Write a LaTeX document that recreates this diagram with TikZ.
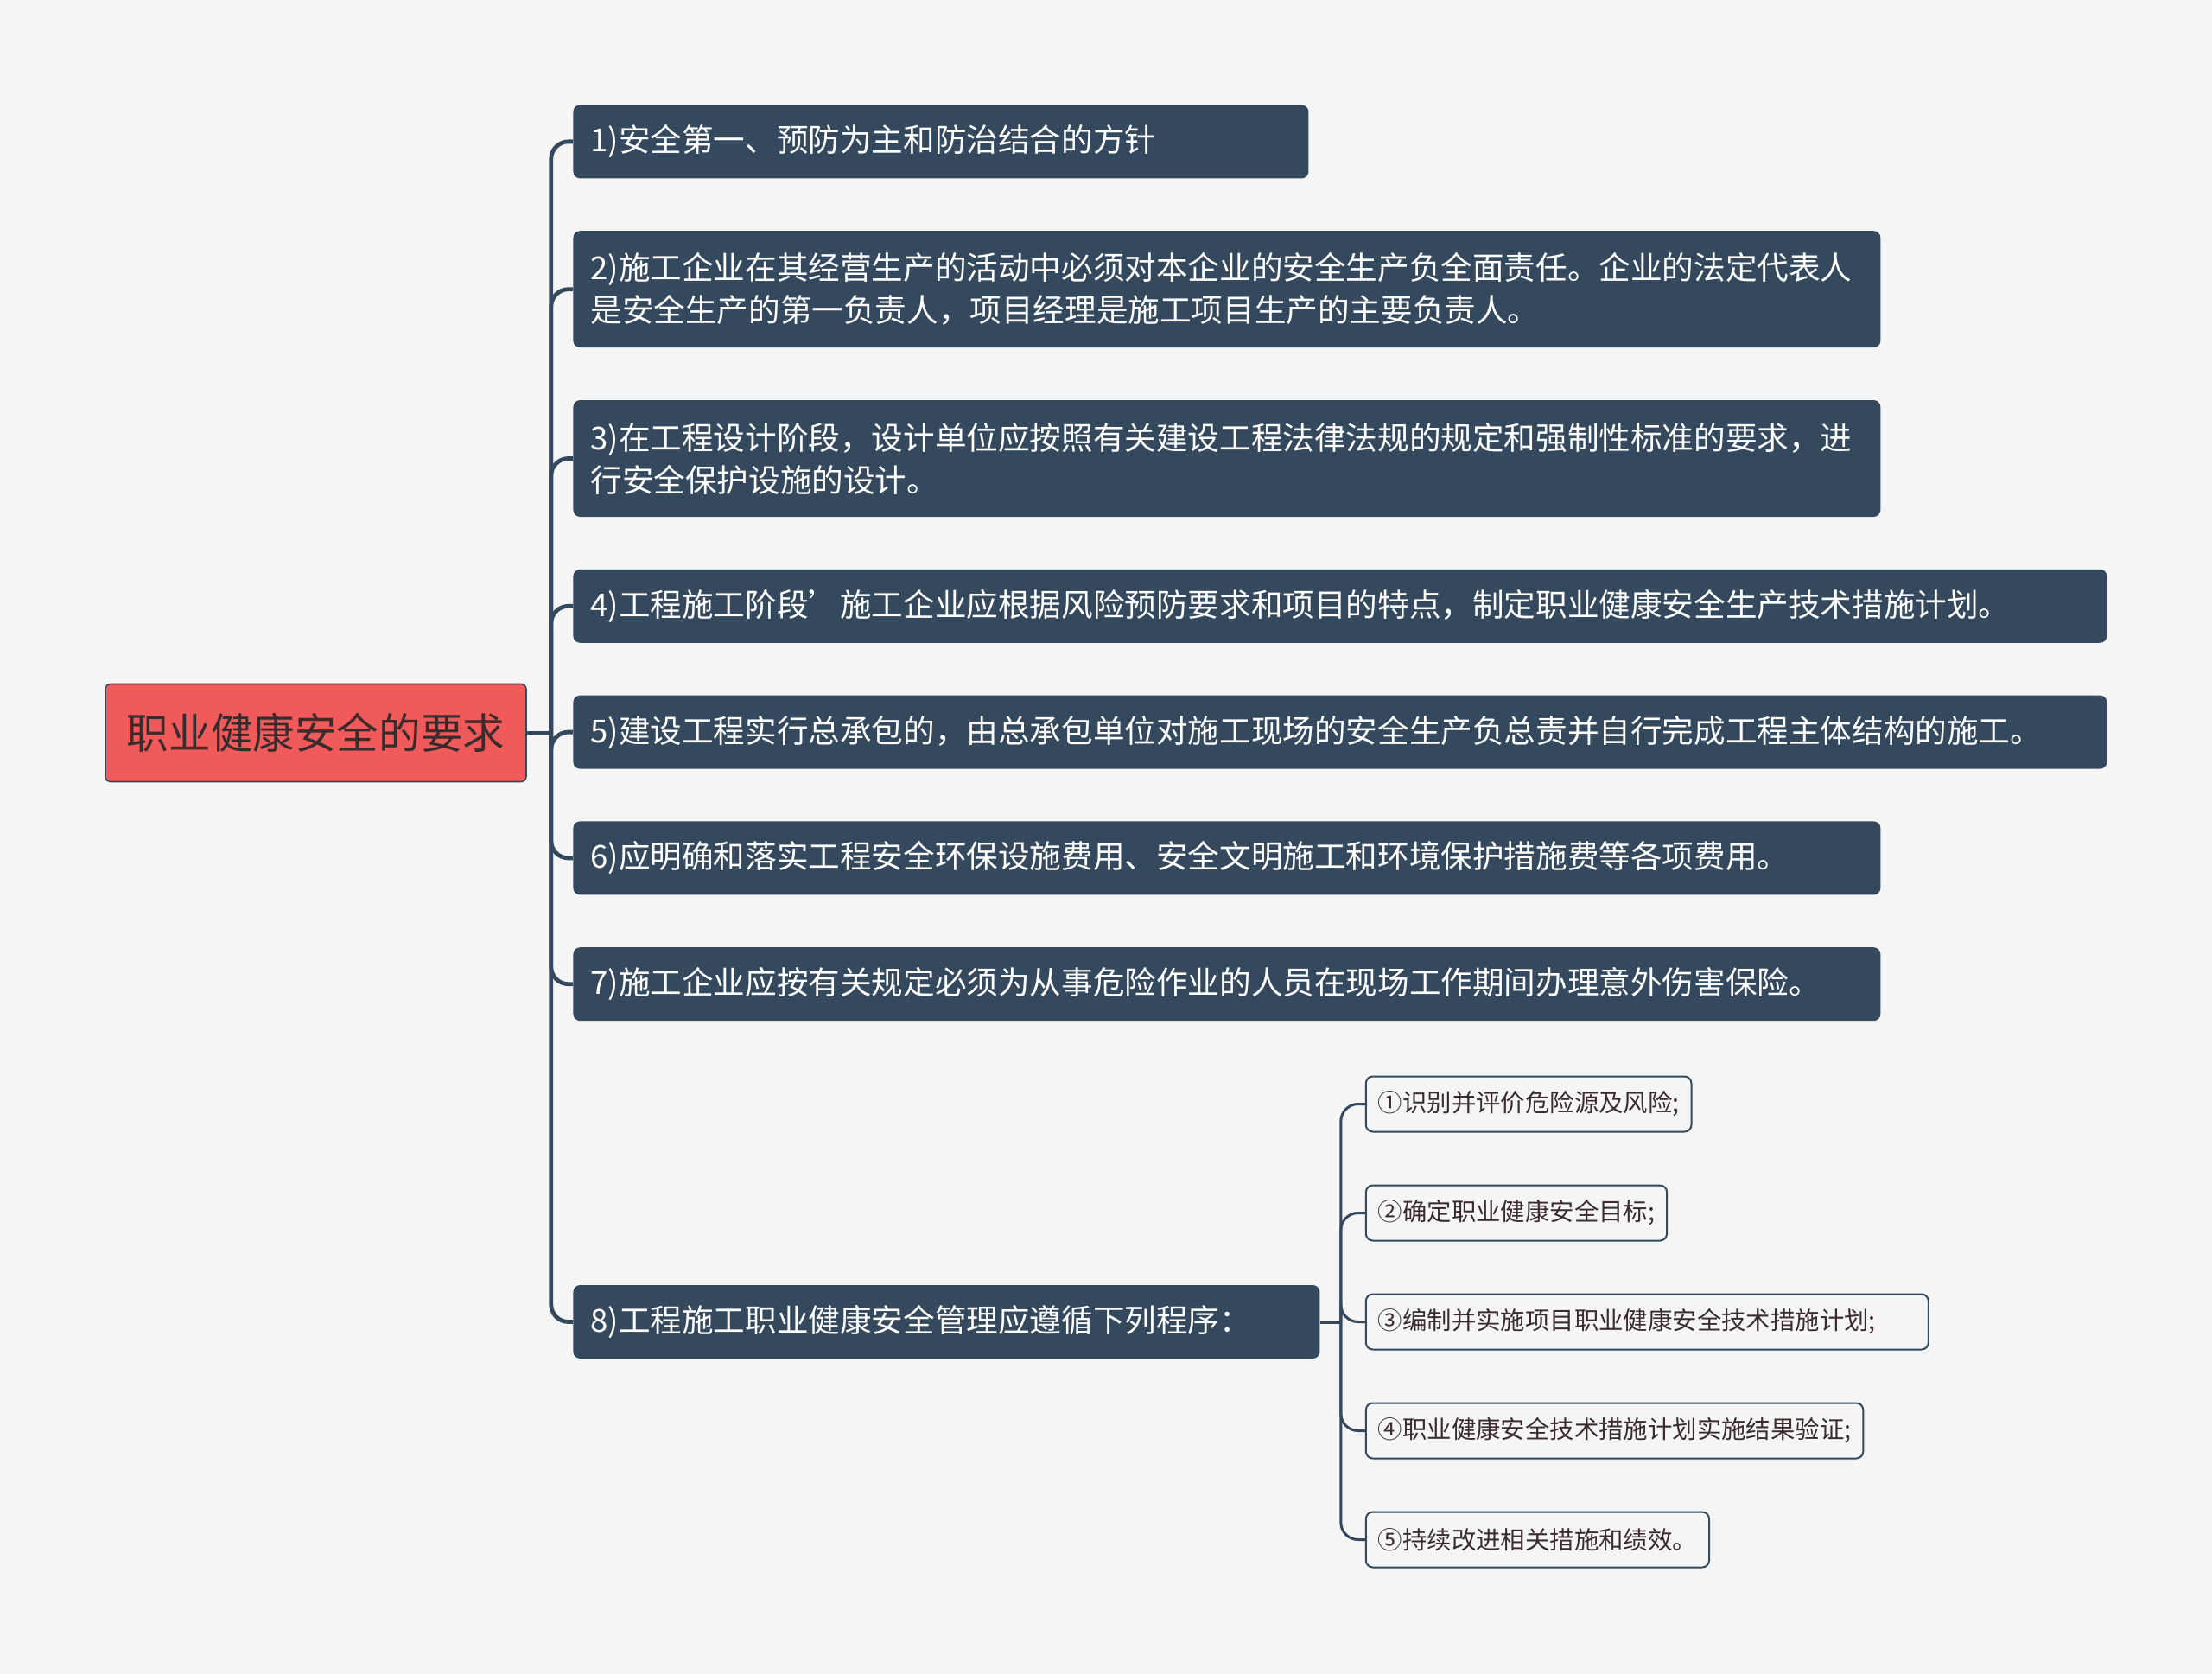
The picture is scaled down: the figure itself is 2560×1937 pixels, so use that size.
\documentclass[tikz,border=0pt]{standalone}
\usepackage{fontspec}
\setmainfont{Noto Sans CJK SC}
\usepackage{tikz}
\usetikzlibrary{positioning}

\definecolor{slate}{HTML}{34495E}
\definecolor{paper}{HTML}{F5F5F5}
\definecolor{coral}{HTML}{F05A5A}
\definecolor{ink}{HTML}{3A2C2C}

\begin{document}
\begin{tikzpicture}[x=0.5pt, y=-0.5pt]
    % Styles
    \tikzstyle{topic} = [rectangle, rounded corners=3pt, draw=slate, line width=0.8pt, fill=coral, text=ink, minimum width=243.5pt, minimum height=56.5pt, font=\fontsize{24.3}{30}\selectfont]
    \tikzstyle{branch} = [rectangle, rounded corners=4pt, fill=slate, text=white, inner xsep=10pt, inner ysep=4pt, align=left, minimum height=42.5pt, font=\fontsize{18.3}{24.5}\selectfont]
    \tikzstyle{leaf} = [rectangle, rounded corners=4pt, draw=slate, line width=1pt, fill=paper, text=ink, inner xsep=7pt, minimum height=32pt, font=\fontsize{14.2}{18}\selectfont]
    \tikzstyle{link} = [draw=slate, line width=2.4pt, rounded corners=10pt]
    \tikzstyle{twig} = [draw=slate, line width=1.5pt, rounded corners=10pt]

    % Background
    \fill[paper] (0,0) rectangle (2560,1937);

    % Nodes
    \node[topic] (root) at (365.5,848) {职业健康安全的要求};
    \node[branch, text width=405.5pt, anchor=north west] (b1) at (663,121) {1)安全第一、预防为主和防治结合的方针};
    \node[branch, text width=736.5pt, minimum height=67.5pt, below right=30pt and 0pt of b1.south west] (b2) {2)施工企业在其经营生产的活动中必须对本企业的安全生产负全面责任。企业的法定代表人\\是安全生产的第一负责人，项目经理是施工项目生产的主要负责人。};
    \node[branch, text width=736.5pt, minimum height=67.5pt, below right=30pt and 0pt of b2.south west] (b3) {3)在工程设计阶段，设计单位应按照有关建设工程法律法规的规定和强制性标准的要求，进\\行安全保护设施的设计。};
    \node[branch, text width=867.5pt, below right=30pt and 0pt of b3.south west] (b4) {4)工程施工阶段’施工企业应根据风险预防要求和项目的特点，制定职业健康安全生产技术措施计划。};
    \node[branch, text width=867.5pt, below right=30pt and 0pt of b4.south west] (b5) {5)建设工程实行总承包的，由总承包单位对施工现场的安全生产负总责并自行完成工程主体结构的施工。};
    \node[branch, text width=736.5pt, below right=30pt and 0pt of b5.south west] (b6) {6)应明确和落实工程安全环保设施费用、安全文明施工和环境保护措施费等各项费用。};
    \node[branch, text width=736.5pt, below right=30pt and 0pt of b6.south west] (b7) {7)施工企业应按有关规定必须为从事危险作业的人员在现场工作期间办理意外伤害保险。};
    \node[branch, text width=412pt, below right=152.5pt and 0pt of b7.south west] (b8) {8)工程施工职业健康安全管理应遵循下列程序：};

    \node[leaf, text width=311.5pt, align=left, right=26pt of b8] (l3) {③编制并实施项目职业健康安全技术措施计划;};
    \node[leaf, above right=30pt and 0pt of l3.north west] (l2) {②确定职业健康安全目标;};
    \node[leaf, above right=30pt and 0pt of l2.north west] (l1) {①识别并评价危险源及风险;};
    \node[leaf, below right=30pt and 0pt of l3.south west] (l4) {④职业健康安全技术措施计划实施结果验证;};
    \node[leaf, below right=30pt and 0pt of l4.south west] (l5) {⑤持续改进相关措施和绩效。};

    % Connections
    \coordinate[right=14pt of root.east] (hub);
    \draw[link] (root.east) -- (hub);
    \foreach \b in {b1,b2,b3,b4,b5,b6,b7,b8}
        \draw[link] (hub) |- (\b.west);

    \coordinate[right=12pt of b8.east] (fork);
    \draw[link, line width=2pt] (b8.east) -- (fork);
    \foreach \l in {l1,l2,l3,l4,l5}
        \draw[twig] (fork) |- (\l.west);

\end{tikzpicture}
\end{document}
